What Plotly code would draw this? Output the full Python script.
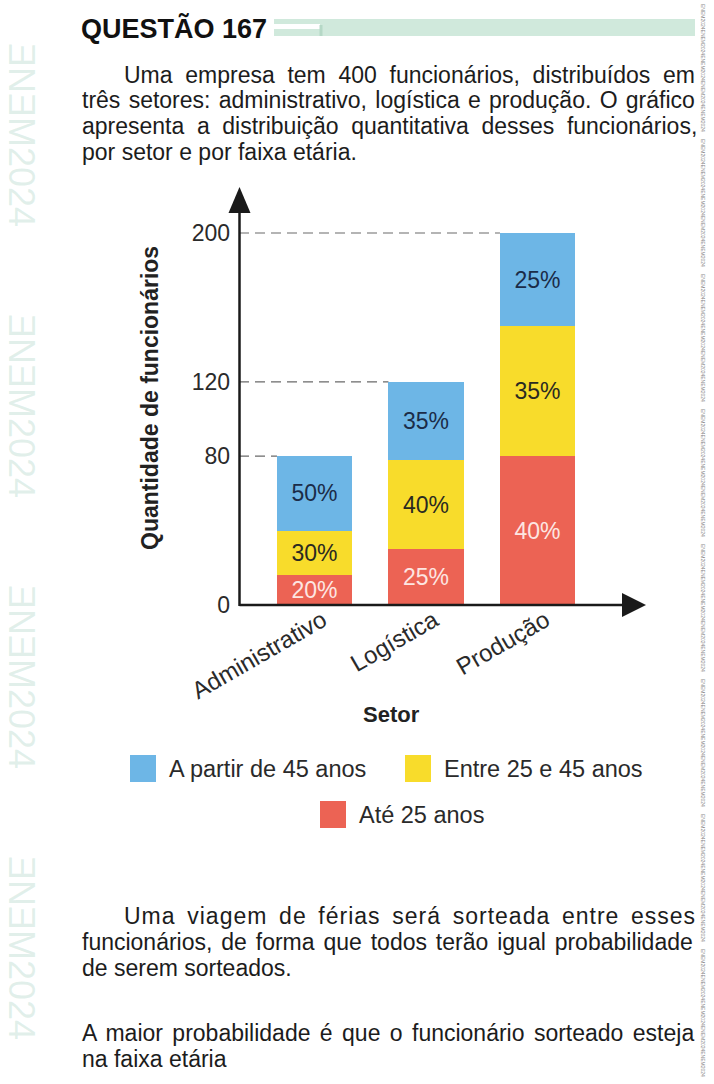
import plotly.graph_objects as go

# ---------------- data ----------------
setores = ["Administrativo", "Logística", "Produção"]
totais = [80, 120, 200]
pct_ate25 = [20, 25, 40]
pct_25a45 = [30, 40, 35]
pct_45mais = [50, 35, 25]
faixas = ["A partir de 45 anos", "Entre 25 e 45 anos", "Até 25 anos"]
y_ticks = [0, 80, 120, 200]

# ---------------- layout helpers ----------------
FW, FH = 714, 1084
L, R, T, B = 239, 623, 212, 605          # plot area in pixels
PW, PH = R - L, B - T
def px(x):
    return (x - L) / PW
def py(y):
    return (B - y) / PH

BLUE, YELLOW, RED = "#6db6e6", "#f8dc2b", "#ec6354"
FONT = "Liberation Sans, Arial, Helvetica, sans-serif"
TXT = "#1c1c1c"

def qtd(pcts):
    return [t * p / 100 for t, p in zip(totais, pcts)]

fig = go.Figure()
series = [
    (faixas[2], pct_ate25, RED, "#fde6e2"),
    (faixas[1], pct_25a45, YELLOW, "#2a2a22"),
    (faixas[0], pct_45mais, BLUE, "#1b2c48"),
]
for name, pcts, col, tcol in series:
    fig.add_trace(go.Bar(
        x=setores, y=qtd(pcts), name=name, width=0.673,
        marker=dict(color=col, line=dict(width=0)),
        text=[f"{p}%" for p in pcts], textposition="inside",
        insidetextanchor="middle", constraintext="none", textangle=0,
        textfont=dict(family=FONT, size=23, color=tcol),
        showlegend=False, hoverinfo="skip",
    ))

ymax = (B - T) / 1.86
fig.update_layout(
    width=FW, height=FH, barmode="stack",
    margin=dict(l=L, r=FW - R, t=T, b=FH - B, pad=0),
    paper_bgcolor="white", plot_bgcolor="white",
    font=dict(family=FONT, color=TXT),
    xaxis=dict(type="category", range=[-0.677, 2.767], showgrid=False,
               zeroline=False, showline=False, ticks="", tickangle=-30,
               tickfont=dict(size=24, color="#2a2a2a"), ticklabelshift=8,
               ticklabelstandoff=-4),
    yaxis=dict(range=[0, ymax], tickvals=y_ticks, showgrid=False,
               zeroline=False, showline=False, ticks="",
               tickfont=dict(size=23, color="#2a2a2a"), ticklabelstandoff=8),
)

shapes = []
# dashed reference lines
for i, t in enumerate(totais):
    shapes.append(dict(type="line", xref="x", yref="y", x0=-0.677, x1=i - 0.3365,
                       y0=t, y1=t, line=dict(color="#6a6a6a", width=1.2, dash="10px,6px"),
                       layer="below"))
# axes with arrows
shapes.append(dict(type="line", xref="paper", yref="paper", x0=px(239.5), x1=px(625),
                   y0=0, y1=0, line=dict(color="#1a1a1a", width=2.5)))
shapes.append(dict(type="line", xref="paper", yref="paper", x0=px(239.5), x1=px(239.5),
                   y0=py(606), y1=py(210), line=dict(color="#1a1a1a", width=2.5)))
shapes.append(dict(type="path", xref="paper", yref="paper",
                   path=f"M {px(622)} {py(593)} L {px(646)} {py(605)} L {px(622)} {py(617)} Z",
                   fillcolor="#1a1a1a", line=dict(width=0)))
shapes.append(dict(type="path", xref="paper", yref="paper",
                   path=f"M {px(228.5)} {py(213)} L {px(239.5)} {py(187)} L {px(250.5)} {py(213)} Z",
                   fillcolor="#1a1a1a", line=dict(width=0)))

def note(x, y, text, size, color, xa="left", ya="middle", **kw):
    return dict(xref="paper", yref="paper", x=px(x), y=py(y), text=text,
                showarrow=False, xanchor=xa, yanchor=ya,
                font=dict(size=size, color=color), **kw)

# legend swatches
legend_items = [(130, 755, BLUE, faixas[0]), (405, 755, YELLOW, faixas[1]), (320, 801, RED, faixas[2])]
annotations = []
for x0, y0, col, lab in legend_items:
    shapes.append(dict(type="rect", xref="paper", yref="paper", x0=px(x0), x1=px(x0 + 26),
                       y0=py(y0), y1=py(y0 + 27), fillcolor=col, line=dict(width=0)))
    annotations.append(note(x0 + 37, y0 + 14, lab, 23.5, "#2a2a2a"))

# header decoration
shapes.append(dict(type="rect", xref="paper", yref="paper", x0=px(274), x1=px(695),
                   y0=py(19), y1=py(36), fillcolor="#d0e9dc", line=dict(width=0)))
shapes.append(dict(type="rect", xref="paper", yref="paper", x0=px(274), x1=px(320),
                   y0=py(24), y1=py(29), fillcolor="white", line=dict(width=0)))
shapes.append(dict(type="line", xref="paper", yref="paper", x0=px(321), x1=px(321),
                   y0=py(25), y1=py(36), line=dict(color="#b5d8c6", width=3)))

# axis titles
annotations.append(note(150, 398, "<b>Quantidade de funcionários</b>", 23, "#222",
                        xa="center", textangle=-90))
annotations.append(note(391, 714, "<b>Setor</b>", 22, "#222", xa="center"))

# question text
annotations.append(note(79, 28, "<b>QUESTÃO 167</b>", 27, "#111"))
# (x, y, text, word-spacing px, letter-spacing px)
body = [
    (122, 75, "Uma empresa tem 400 funcionários, distribuídos em", 6.3, 0),
    (80, 100, "três setores: administrativo, logística e produção. O gráfico", 1.9, 0),
    (80, 126, "apresenta a distribuição quantitativa desses funcionários,", 6.2, 0),
    (80, 152, "por setor e por faixa etária.", 0, 0),
    (122, 916, "Uma viagem de férias será sorteada entre esses", 4.3, 1),
    (80, 942, "funcionários, de forma que todos terão igual probabilidade", 2.5, 0),
    (80, 968, "de serem sorteados.", 0, 0),
    (80, 1033, "A maior probabilidade é que o funcionário sorteado esteja", 3.0, 0),
    (80, 1059, "na faixa etária", 0, 0),
]
for x0, y0, s, ws, ls in body:
    if ws or ls:
        s = f'<span style="word-spacing:{ws}px;letter-spacing:{ls}px">{s}</span>'
    annotations.append(note(x0, y0, s, 23, TXT))

# side decorations
for k in range(4):
    annotations.append(note(22, 135 + k * 271, "ƎNƎM2024", 36, "rgba(120,185,160,0.22)",
                            xa="center", textangle=90))
for k in range(8):
    annotations.append(note(703, 68 + k * 135, "ENEM2024" * 5, 5, "#8a8a8a",
                            xa="center", textangle=90))

fig.update_layout(shapes=shapes, annotations=annotations)
fig.write_html("out.html")
